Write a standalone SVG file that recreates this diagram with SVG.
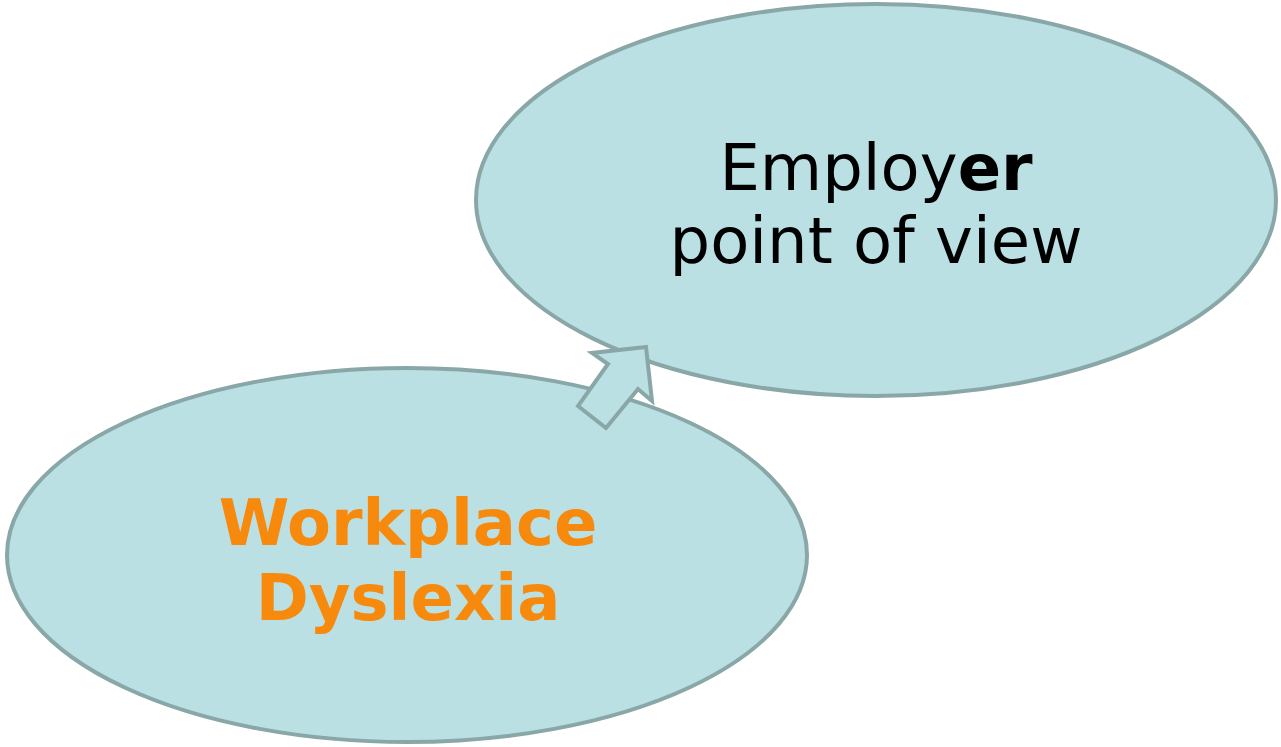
<svg xmlns="http://www.w3.org/2000/svg" width="1281" height="747" viewBox="0 0 1281 747">
<style>
.node{fill:#bae0e3;stroke:#8aa7a8;stroke-width:4}
.t1{font-family:"DejaVu Sans",Verdana,sans-serif;font-size:64px;fill:#000;text-anchor:middle}
.t2{font-family:"DejaVu Sans",Verdana,sans-serif;font-size:64px;font-weight:bold;fill:#f7890d;text-anchor:middle}
</style>
<rect width="1281" height="747" fill="#fff"/>
<g id="employer">
<ellipse class="node" cx="876" cy="200" rx="400" ry="196"/>
<text class="t1" x="876" y="190">Employ<tspan font-weight="bold">er</tspan></text>
<text class="t1" x="876" y="263">point of view</text>
</g>
<g id="workplace">
<ellipse class="node" cx="407" cy="555" rx="400" ry="187"/>
<text class="t2" x="408" y="545">Workplace</text>
<text class="t2" x="408" y="620">Dyslexia</text>
</g>
<g id="connectors">
<polygon class="node" points="578,406 606,428 638,389 652,401 646,347 592,353 608,364"/>
</g>
</svg>
